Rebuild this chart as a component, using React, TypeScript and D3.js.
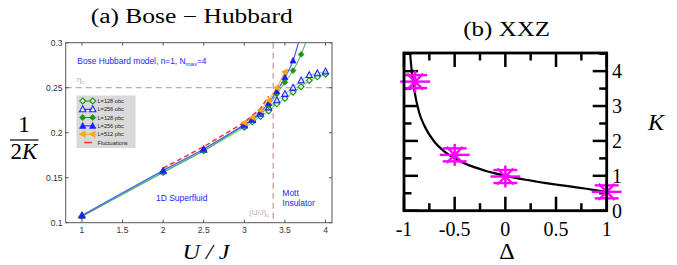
import React from "react";
import * as d3 from "d3";

// ---------- Panel (a) data ----------
const U_OBC = [1, 2, 2.5, 3, 3.1, 3.2, 3.3, 3.4, 3.5, 3.6, 3.7, 3.8, 3.9, 4];
const L128_OBC = [0.107, 0.156, 0.18, 0.206, 0.212, 0.218, 0.224, 0.232, 0.238, 0.245, 0.251, 0.258, 0.262, 0.265];
const L256_OBC = [0.108, 0.157, 0.181, 0.208, 0.214, 0.221, 0.228, 0.236, 0.243, 0.25, 0.258, 0.264, 0.266, 0.268];
const U_PBC128 = [1, 2, 2.5, 3, 3.1, 3.2, 3.3, 3.4, 3.5, 3.6, 3.7];
const L128_PBC = [0.107, 0.156, 0.18, 0.208, 0.214, 0.221, 0.23, 0.243, 0.256, 0.269, 0.287];
const U_PBC256 = [1, 2, 2.5, 3, 3.1, 3.2, 3.3, 3.4, 3.5, 3.6];
const L256_PBC = [0.108, 0.158, 0.182, 0.209, 0.215, 0.223, 0.233, 0.246, 0.2615, 0.28];
const U_PBC512 = [3, 3.1, 3.2, 3.3, 3.4, 3.5];
const L512_PBC = [0.211, 0.217, 0.225, 0.236, 0.25, 0.2675];
const FIT128_U = [3.7, 3.76];
const FIT128_V = [0.287, 0.301];
const FIT256_U = [3.6, 3.67];
const FIT256_V = [0.28, 0.301];
const U_FLUCT = [2, 2.5, 3, 3.2, 3.3];
const FLUCT = [0.1605, 0.1845, 0.2115, 0.227, 0.2405];
const UC = 3.356;
const ETA_C = 0.25;
const XTICKS_A = [1, 1.5, 2, 2.5, 3, 3.5, 4];
const YTICKS_A = [0.1, 0.15, 0.2, 0.25, 0.3];
const LEGEND = ["L=128 obc", "L=256 obc", "L=128 pbc", "L=256 pbc", "L=512 pbc", "Fluctuations"];

// ---------- Panel (b) data ----------
const DELTA_PTS = [-0.89, -0.5, 0, 1];
const K_PTS = [3.7, 1.6, 0.98, 0.54];
const DELTA_CURVE = [-0.94, -0.92, -0.9, -0.85, -0.8, -0.7, -0.6, -0.5, -0.4, -0.3, -0.2, -0.1, 0, 0.1, 0.2, 0.3, 0.4, 0.5, 0.6, 0.7, 0.8, 0.9, 0.95, 1];
const K_CURVE = [4.51, 3.905, 3.483, 2.809, 2.441, 1.975, 1.694, 1.5, 1.355, 1.241, 1.147, 1.068, 1, 0.94, 0.886, 0.838, 0.792, 0.75, 0.709, 0.67, 0.629, 0.584, 0.56, 0.53];
const XTICKS_B = [-1, -0.5, 0, 0.5, 1];
const YTICKS_B = [0, 1, 2, 3, 4];

const BLUE = "#1c1cff";
const BLUE_LINE = "#3d5cff";
const GREEN = "#1a961a";
const ORANGE = "#ffa31a";
const RED = "#ff3333";
const TAN = "#caa5a5";
const MAG = "#ff00ff";

type Kind = "dOpen" | "tOpen" | "dFill" | "tFill" | "tLeft";

function Marker({ x, y, kind, s = 2.9 }: { x: number; y: number; kind: Kind; s?: number }) {
  if (kind === "dOpen" || kind === "dFill") {
    const p = `M${x},${y - s} L${x + s},${y} L${x},${y + s} L${x - s},${y} Z`;
    return kind === "dOpen" ? (
      <path d={p} fill="white" fillOpacity={0.6} stroke={GREEN} strokeWidth={1.1} />
    ) : (
      <path d={p} fill={GREEN} stroke={GREEN} strokeWidth={0.8} />
    );
  }
  if (kind === "tOpen" || kind === "tFill") {
    const p = `M${x},${y - s - 0.5} L${x + s + 0.2},${y + s - 0.5} L${x - s - 0.2},${y + s - 0.5} Z`;
    return kind === "tOpen" ? (
      <path d={p} fill="white" fillOpacity={0.6} stroke={BLUE} strokeWidth={1.1} />
    ) : (
      <path d={p} fill={BLUE} stroke={BLUE} strokeWidth={0.6} />
    );
  }
  const p = `M${x - s - 0.5},${y} L${x + s - 0.5},${y - s - 0.2} L${x + s - 0.5},${y + s + 0.2} Z`;
  return <path d={p} fill={ORANGE} stroke={ORANGE} strokeWidth={0.6} />;
}

function Star({ x, y }: { x: number; y: number }) {
  const segs = [
    [0, -11, 0, 11],
    [-15, 0, 15, 0],
    [-8, -8, 8, 8],
    [-8, 8, 8, -8],
    [-12, -6.5, 12, -6.5],
    [-12, 6.5, 12, 6.5],
  ];
  return (
    <g stroke={MAG} strokeWidth={2.4}>
      {segs.map((s, i) => (
        <line key={i} x1={x + s[0]} y1={y + s[1]} x2={x + s[2]} y2={y + s[3]} />
      ))}
    </g>
  );
}

export default function App() {
  // Panel (a) scales
  const L = 65.7, R = 332, T = 42.7, B = 222.7;
  const xA = d3.scaleLinear().domain([0.8, 4.08]).range([L, R]);
  const yA = d3.scaleLinear().domain([0.1, 0.3]).range([B, T]);
  const lineA = (us: number[], vs: number[]) =>
    d3.line<number>().x((_, i) => xA(us[i])).y((v) => yA(v))(vs) || "";
  const smoothA = (us: number[], vs: number[]) =>
    d3.line<number>().x((_, i) => xA(us[i])).y((v) => yA(v)).curve(d3.curveMonotoneX)(vs) || "";

  // Panel (b) scales
  const bL = 404, bR = 606.7, bT = 53, bB = 210.7;
  const xB = d3.scaleLinear().domain([-1, 1]).range([bL, bR]);
  const yB = d3.scaleLinear().domain([0, 4.52]).range([bB, bT]);
  const curveB =
    d3.line<number>().x((_, i) => xB(DELTA_CURVE[i])).y((k) => yB(k)).curve(d3.curveMonotoneX)(K_CURVE) || "";

  const xMinorB = d3.range(-1, 1.0001, 0.25);
  const yMinorB = d3.range(0, 4.5001, 0.5);
  const isMajorX = (v: number) => Math.abs(v * 2 - Math.round(v * 2)) < 1e-6;
  const isMajorY = (v: number) => Math.abs(v - Math.round(v)) < 1e-6;

  const sans = "'Liberation Sans', Arial, sans-serif";
  const serif = "'Liberation Serif', 'Times New Roman', serif";

  const legY0 = 101;
  const legStep = 8.3;
  const legKinds: (Kind | null)[] = ["dOpen", "tOpen", "dFill", "tFill", "tLeft", null];
  const legColors = [GREEN, BLUE, GREEN, BLUE, ORANGE, RED];

  return (
    <svg width={677} height={265} style={{ position: "absolute", left: 0, top: 0 }}>
      <rect x={0} y={0} width={677} height={265} fill="white" />
      <defs>
        <clipPath id="clipA">
          <rect x={L} y={T} width={R - L} height={B - T} />
        </clipPath>
        <clipPath id="clipB">
          <rect x={bL} y={bT} width={bR - bL} height={bB - bT} />
        </clipPath>
      </defs>

      {/* ===== Panel (a) ===== */}
      <text x={90.7} y={22.5} fontFamily={serif} fontSize={20} textLength={202} lengthAdjust="spacingAndGlyphs">
        (a) Bose − Hubbard
      </text>

      {/* reference lines */}
      <line x1={L} x2={R} y1={yA(ETA_C)} y2={yA(ETA_C)} stroke={TAN} strokeWidth={1.2} strokeDasharray="6,4" />
      <line x1={xA(UC)} x2={xA(UC)} y1={T} y2={B} stroke={TAN} strokeWidth={1.4} strokeDasharray="6,4" />

      {/* frame and ticks */}
      <rect x={L} y={T} width={R - L} height={B - T} fill="none" stroke="#555" strokeWidth={1} />
      {XTICKS_A.map((t) => (
        <g key={"xa" + t}>
          <line x1={xA(t)} x2={xA(t)} y1={B} y2={B - 3} stroke="#555" />
          <line x1={xA(t)} x2={xA(t)} y1={T} y2={T + 3} stroke="#555" />
          <text x={xA(t)} y={232.5} fontFamily={sans} fontSize={8.5} textAnchor="middle" fill="#333">
            {d3.format("")(t)}
          </text>
        </g>
      ))}
      {YTICKS_A.map((t) => (
        <g key={"ya" + t}>
          <line x1={L} x2={L + 3} y1={yA(t)} y2={yA(t)} stroke="#555" />
          <line x1={R} x2={R - 3} y1={yA(t)} y2={yA(t)} stroke="#555" />
          <text x={62.5} y={yA(t) + 3} fontFamily={sans} fontSize={8.5} textAnchor="end" fill="#333">
            {d3.format("")(t)}
          </text>
        </g>
      ))}

      {/* data lines */}
      <g clipPath="url(#clipA)" fill="none">
        <path d={lineA(U_OBC, L128_OBC)} stroke="#9fd89f" strokeWidth={1.6} />
        <path d={lineA(U_OBC, L256_OBC)} stroke="#8fd0ff" strokeWidth={1.3} />
        <path d={smoothA([...U_PBC128, ...FIT128_U.slice(1)], [...L128_PBC, ...FIT128_V.slice(1)])} stroke="#4aa84a" strokeWidth={1} />
        <path d={smoothA([...U_PBC256, ...FIT256_U.slice(1)], [...L256_PBC, ...FIT256_V.slice(1)])} stroke={BLUE_LINE} strokeWidth={1.2} />
        <path d={lineA(U_PBC512, L512_PBC)} stroke={ORANGE} strokeWidth={1} />
        <path d={lineA(U_FLUCT, FLUCT)} stroke={RED} strokeWidth={1.5} strokeDasharray="5,3" />
      </g>

      {/* markers */}
      <g clipPath="url(#clipA)">
        {U_OBC.map((u, i) => (
          <Marker key={"d" + i} x={xA(u)} y={yA(L128_OBC[i])} kind="dOpen" />
        ))}
        {U_OBC.map((u, i) => (
          <Marker key={"t" + i} x={xA(u)} y={yA(L256_OBC[i])} kind="tOpen" />
        ))}
        {U_PBC128.map((u, i) => (
          <Marker key={"df" + i} x={xA(u)} y={yA(L128_PBC[i])} kind="dFill" />
        ))}
        {U_PBC256.map((u, i) => (
          <Marker key={"tf" + i} x={xA(u)} y={yA(L256_PBC[i])} kind="tFill" />
        ))}
        {U_PBC512.map((u, i) => (
          <Marker key={"tl" + i} x={xA(u)} y={yA(L512_PBC[i])} kind="tLeft" />
        ))}
      </g>

      {/* annotations */}
      <text x={77.3} y={63.5} fontFamily={sans} fontSize={8.4} fill={BLUE}>
        Bose Hubbard model, n=1, N
        <tspan fontSize={6} dy={2}>max</tspan>
        <tspan dy={-2}>=4</tspan>
      </text>
      <text x={77} y={82} fontFamily={sans} fontSize={8} fill={TAN}>
        η<tspan fontSize={5.5} dy={2}>c</tspan>
      </text>
      <text x={249} y={214.5} fontFamily={sans} fontSize={8} fill={TAN}>
        (U/J)<tspan fontSize={5.5} dy={2}>c</tspan>
      </text>
      <text x={181.7} y={201.3} fontFamily={sans} fontSize={8.5} fill={BLUE} textAnchor="middle">
        1D Superfluid
      </text>
      <text x={282.3} y={196.3} fontFamily={sans} fontSize={8.5} fill={BLUE}>
        Mott
      </text>
      <text x={282.3} y={205.7} fontFamily={sans} fontSize={8.5} fill={BLUE}>
        Insulator
      </text>

      {/* legend */}
      <rect x={76.5} y={95.5} width={59} height={52.5} fill="#d9d9d9" />
      {LEGEND.map((lab, i) => {
        const y = legY0 + i * legStep;
        const k = legKinds[i];
        return (
          <g key={lab}>
            {k ? (
              <>
                <line x1={82.7} x2={92.7} y1={y} y2={y} stroke={legColors[i]} strokeWidth={1} />
                <Marker x={82.7} y={y} kind={k} s={3} />
                <Marker x={92.7} y={y} kind={k} s={3} />
              </>
            ) : (
              <line x1={84} x2={92} y1={y} y2={y} stroke={RED} strokeWidth={1.5} />
            )}
            <text x={97.5} y={y + 2} fontFamily={sans} fontSize={5.6} fill="#222">
              {lab}
            </text>
          </g>
        );
      })}

      {/* axis labels */}
      <text x={24} y={132} fontFamily={serif} fontSize={24} textAnchor="middle">1</text>
      <line x1={10} x2={38.5} y1={140} y2={140} stroke="black" strokeWidth={1.2} />
      <text x={24} y={158.5} fontFamily={serif} fontSize={23} textAnchor="middle">
        2<tspan fontStyle="italic">K</tspan>
      </text>
      <text x={206} y={258.5} fontFamily={serif} fontSize={22} fontStyle="italic" textAnchor="middle" textLength={47} lengthAdjust="spacingAndGlyphs">
        U / J
      </text>

      {/* ===== Panel (b) ===== */}
      <text x={463.3} y={35.5} fontFamily={serif} fontSize={20} textLength={86.7} lengthAdjust="spacingAndGlyphs">
        (b) XXZ
      </text>

      <g stroke="black" strokeWidth={2.5}>
        {xMinorB.map((t) => {
          const len = isMajorX(t) ? 14 : 7.5;
          return (
            <g key={"xb" + t}>
              <line x1={xB(t)} x2={xB(t)} y1={bB} y2={bB - len} />
              <line x1={xB(t)} x2={xB(t)} y1={bT} y2={bT + len} />
            </g>
          );
        })}
        {yMinorB.map((t) => {
          const len = isMajorY(t) ? 14 : 7.5;
          return (
            <g key={"yb" + t}>
              <line x1={bL} x2={bL + len} y1={yB(t)} y2={yB(t)} />
              <line x1={bR} x2={bR - len} y1={yB(t)} y2={yB(t)} />
            </g>
          );
        })}
      </g>

      <g clipPath="url(#clipB)">
        <path d={curveB} fill="none" stroke="black" strokeWidth={2.2} />
      </g>
      {DELTA_PTS.map((d, i) => (
        <Star key={"s" + i} x={xB(d)} y={yB(K_PTS[i])} />
      ))}

      <rect x={bL} y={bT} width={bR - bL} height={bB - bT} fill="none" stroke="black" strokeWidth={2.8} />

      {XTICKS_B.map((t) => (
        <text key={"xbl" + t} x={xB(t)} y={236} fontFamily={serif} fontSize={20} textAnchor="middle">
          {t === 0 ? "0" : d3.format("")(t).replace("−", "-")}
        </text>
      ))}
      {YTICKS_B.map((t) => (
        <text key={"ybl" + t} x={612} y={yB(t) + 7} fontFamily={serif} fontSize={20}>
          {t}
        </text>
      ))}
      <text x={656} y={130} fontFamily={serif} fontSize={24} fontStyle="italic" textAnchor="middle">K</text>
      <text x={507} y={259} fontFamily={serif} fontSize={24} textAnchor="middle">Δ</text>
    </svg>
  );
}
